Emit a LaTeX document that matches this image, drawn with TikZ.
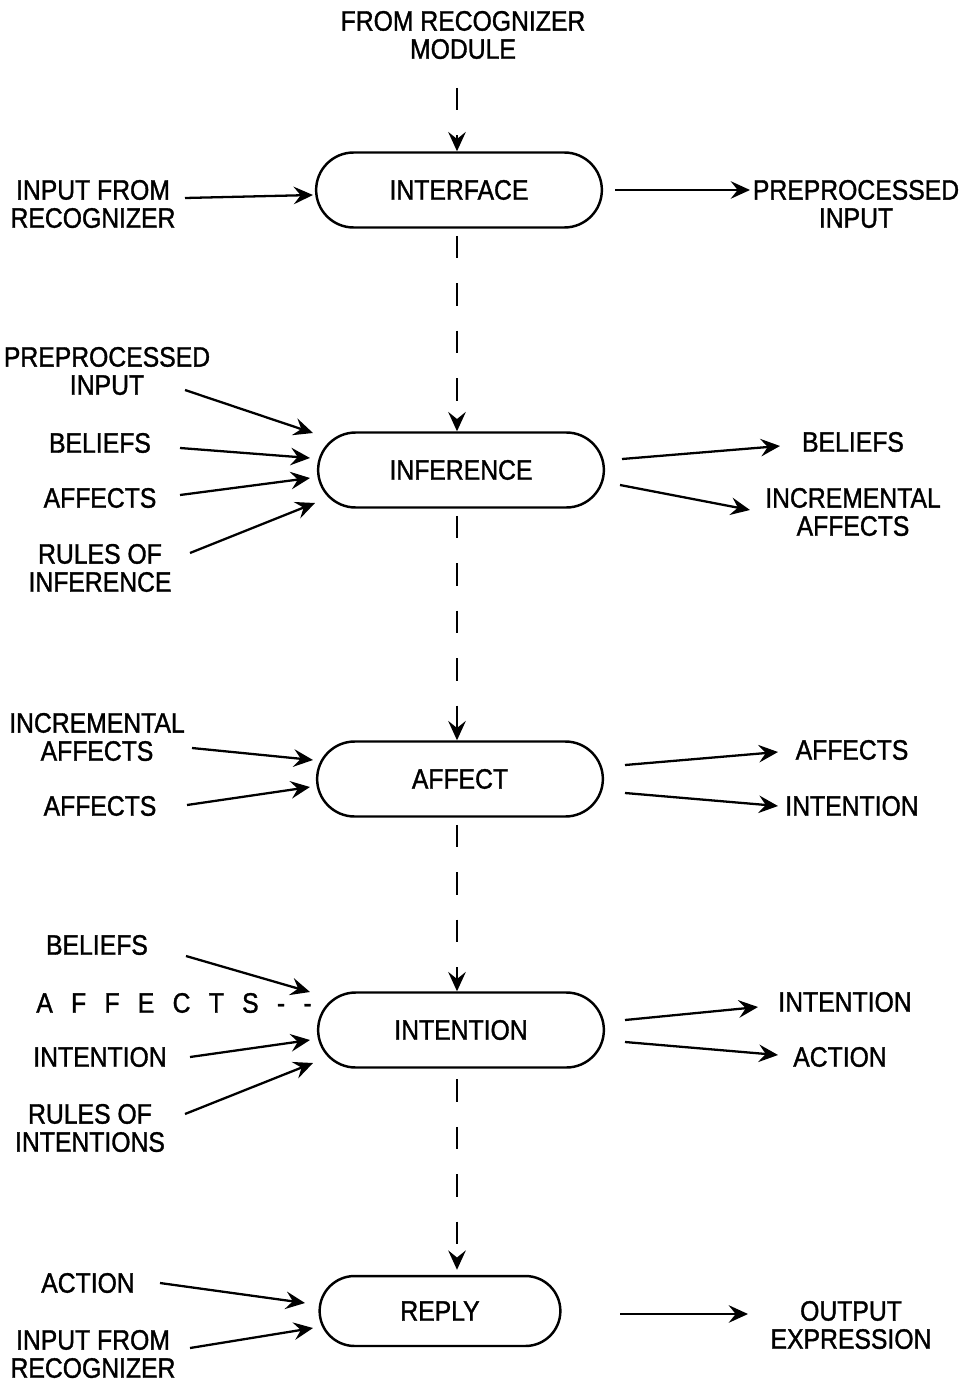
\documentclass[tikz,border=0pt]{standalone}
\usepackage{fontspec}
\setmainfont{Liberation Sans}[FakeStretch=0.88,FakeBold=1.2]
\usetikzlibrary{arrows.meta,calc,shapes.misc}

\tikzset{
  modbox/.style={rounded rectangle,draw,line width=1.4pt,minimum width=5.95cm,minimum height=1.5cm,font=\fontsize{16}{16}\selectfont},
  lbl/.style={align=center,font=\fontsize{16}{16}\selectfont},
  arr/.style={-{Stealth[length=11pt,width=10pt,inset=4pt]},line width=1.3pt},
  flow/.style={arr,dash pattern=on 0.45cm off 0.5cm}
}

\begin{document}
\begin{tikzpicture}[x=0.02cm,y=-0.02cm]
\useasboundingbox (0,0) rectangle (962,1382);

% modules
\node[modbox](ifc) at (459,190){INTERFACE};
\node[modbox](inf) at (461,470){INFERENCE};
\node[modbox](aff) at (460,779){AFFECT};
\node[modbox](int) at (461,1030){INTENTION};
\node[modbox,minimum width=5.05cm,minimum height=1.4cm](rep) at (440,1311){REPLY};

% main flow
\node[lbl](src) at (463,35){FROM RECOGNIZER\\MODULE};
\draw[flow] ($(src)+(-6,53)$) -- (ifc.north -| 457,0);
\draw[flow,shorten <=4pt] (ifc.south -| 457,0) -- (inf.north -| 457,0);
\draw[flow,shorten <=4pt] (inf.south -| 457,0) -- (aff.north -| 457,0);
\draw[flow,shorten <=4pt] (aff.south -| 457,0) -- (int.north -| 457,0);
\draw[flow,shorten <=6pt] (int.south -| 457,0) -- ($(rep.north -| 457,0)+(0,-5)$);

% interface
\node[lbl](ifcin) at (93,204){INPUT FROM\\RECOGNIZER};
\node[lbl](ifcout) at (856,204){PREPROCESSED\\INPUT};
\draw[arr] ($(ifcin)+(92,-6)$) -- ($(ifc)+(-146,5)$);
\draw[arr] ($(ifc)+(156,0)$) -- ($(ifcout)+(-106,-14)$);

% inference
\node[lbl](infpre) at (107,371){PREPROCESSED\\INPUT};
\node[lbl](infbel) at (100,443){BELIEFS};
\node[lbl](infaff) at (100,498){AFFECTS};
\node[lbl](infrul) at (100,568){RULES OF\\INFERENCE};
\node[lbl](infbelo) at (853,442){BELIEFS};
\node[lbl](infinco) at (853,512){INCREMENTAL\\AFFECTS};
\draw[arr] ($(infpre)+(78,19)$) -- ($(inf)+(-148,-37)$);
\draw[arr] ($(infbel)+(80,5)$) -- ($(inf)+(-151,-12)$);
\draw[arr] ($(infaff)+(80,-3)$) -- ($(inf)+(-151,8)$);
\draw[arr] ($(infrul)+(90,-15)$) -- ($(inf)+(-146,33)$);
\draw[arr] ($(inf)+(161,-11)$) -- ($(infbelo)+(-73,4)$);
\draw[arr] ($(inf)+(159,15)$) -- ($(infinco)+(-103,-2)$);

% affect
\node[lbl](affinc) at (97,737){INCREMENTAL\\AFFECTS};
\node[lbl](affaff) at (100,806){AFFECTS};
\node[lbl](affaffo) at (852,750){AFFECTS};
\node[lbl](affinto) at (852,806){INTENTION};
\draw[arr] ($(affinc)+(95,11)$) -- ($(aff)+(-147,-19)$);
\draw[arr] ($(affaff)+(87,-1)$) -- ($(aff)+(-150,8)$);
\draw[arr] ($(aff)+(165,-14)$) -- ($(affaffo)+(-74,2)$);
\draw[arr] ($(aff)+(165,14)$) -- ($(affinto)+(-74,0)$);

% intention
\node[lbl](intbel) at (97,945){BELIEFS};
\node[lbl](intaff) at (174,1003){\spaceskip=0.65em\relax A F F E C T S - -};
\node[lbl](intint) at (100,1057){INTENTION};
\node[lbl](intrul) at (90,1128){RULES OF\\INTENTIONS};
\node[lbl](intinto) at (845,1002){INTENTION};
\node[lbl](intact) at (840,1057){ACTION};
\draw[arr] ($(intbel)+(89,11)$) -- ($(int)+(-151,-38)$);
\draw[arr] ($(intint)+(90,0)$) -- ($(int)+(-151,10)$);
\draw[arr] ($(intrul)+(95,-14)$) -- ($(int)+(-148,33)$);
\draw[arr] ($(int)+(164,-10)$) -- ($(intinto)+(-87,5)$);
\draw[arr] ($(int)+(164,12)$) -- ($(intact)+(-62,-2)$);

% reply
\node[lbl](repact) at (88,1283){ACTION};
\node[lbl](repin) at (93,1354){INPUT FROM\\RECOGNIZER};
\node[lbl](repout) at (851,1325){OUTPUT\\EXPRESSION};
\draw[arr] ($(repact)+(72,0)$) -- ($(rep)+(-135,-8)$);
\draw[arr] ($(repin)+(97,-6)$) -- ($(rep)+(-127,17)$);
\draw[arr] ($(rep)+(180,3)$) -- ($(repout)+(-103,-11)$);
\end{tikzpicture}
\end{document}
